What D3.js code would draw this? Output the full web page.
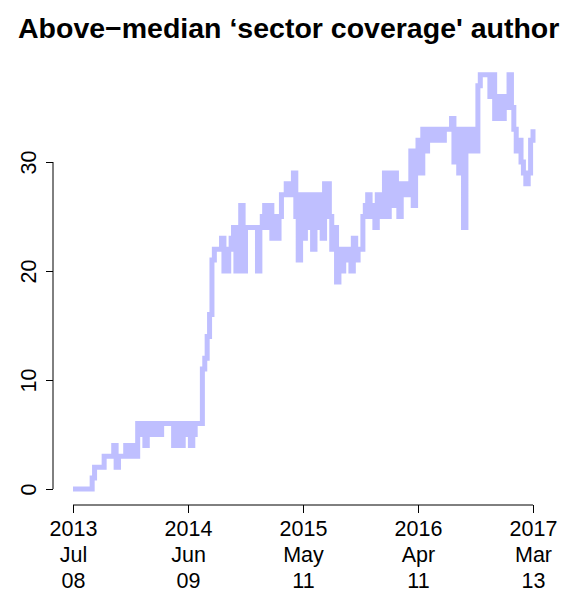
<!DOCTYPE html>
<html>
<head>
<meta charset="utf-8">
<script src="https://cdn.jsdelivr.net/npm/d3@7"></script>
<style>
  html, body { margin: 0; padding: 0; background: #fff; overflow: hidden; }
  svg { display: block; }
  text { font-family: "Liberation Sans", Arial, Helvetica, sans-serif; fill: #000; }
</style>
</head>
<body>
<svg id="chart" width="563" height="592"></svg>
<script>
// ---- data ----
const titleText = "Above\u2212median \u2018sector coverage' author";
const seriesStart = "2013-07-08";   // first weekly observation
// weekly values (one per week starting at seriesStart)
const weeklyValues = [
  0,0,0,0,0,0,0,0,1,2,2,2,2,3,3,3,3,4,2,3,
  3,3,4,3,4,4,3,6,5,6,4,6,6,5,6,6,5,6,6,6,
  6,6,4,6,6,4,6,5,6,4,5,6,6,6,11,12,14,16,21,22,
  22,22,23,20,20,22,23,24,20,22,26,20,24,24,24,24,24,20,24,25,
  26,24,26,23,25,23,25,27,27,28,27,28,29,25,21,27,23,27,24,27,
  22,27,24,27,23,28,28,25,22,24,19,22,20,22,21,22,20,23,21,22,
  22,25,26,27,25,26,24,27,25,26,29,25,29,26,29,28,25,28,27,28,
  27,31,26,31,32,29,33,31,32,33,33,32,33,33,32,33,33,33,34,30,
  33,29,33,24,33,33,31,33,31,37,38,38,38,38,36,38,34,36,35,34,
  36,35,38,35,33,31,32,30,29,28,29,32,33
];
const xTickDates = ["2013-07-08", "2014-06-09", "2015-05-11", "2016-04-11", "2017-03-13"];
const yTickValues = [0, 10, 20, 30];

// ---- chart ----
const parse = d3.timeParse("%Y-%m-%d");
const start = parse(seriesStart);
const data = weeklyValues.map((v, i) => ({ date: d3.timeDay.offset(start, 7 * i), value: v }));

const svg = d3.select("#chart");
const x = d3.scaleTime()
  .domain([parse(xTickDates[0]), parse(xTickDates[xTickDates.length - 1])])
  .range([73, 533]);
const y = d3.scaleLinear().domain([0, 30]).range([489, 162]);

// title
svg.append("text")
  .attr("x", 18).attr("y", 38)
  .attr("font-size", 28.5).attr("font-weight", "bold")
  .text(titleText);

// line
const line = d3.line()
  .x(d => x(d.date)).y(d => y(d.value))
  .curve(d3.curveStepAfter);
svg.append("path")
  .datum(data)
  .attr("fill", "none")
  .attr("stroke", "#bfbfff")
  .attr("stroke-width", 5)
  .attr("stroke-linejoin", "miter")
  .attr("d", line);

// x axis
const xAxisG = svg.append("g").attr("transform", "translate(0,505)");
const xAxis = d3.axisBottom(x)
  .tickValues(xTickDates.map(parse))
  .tickSize(8).tickSizeOuter(0).tickFormat("");
xAxisG.call(xAxis);
xAxisG.select(".domain").attr("stroke", "#000").attr("d", `M${x.range()[0]},0H${x.range()[1]}`);
xAxisG.selectAll(".tick line").attr("stroke", "#000");
const fmts = [d3.timeFormat("%Y"), d3.timeFormat("%b"), d3.timeFormat("%d")];
xAxisG.selectAll(".tick").each(function(d) {
  const g = d3.select(this);
  fmts.forEach((f, i) => {
    g.append("text")
      .attr("y", 31 + i * 26)
      .attr("text-anchor", "middle")
      .attr("font-size", 21.5)
      .attr("fill", "#000")
      .text(f(d));
  });
});

// y axis
const yAxisG = svg.append("g").attr("transform", "translate(53,0)");
yAxisG.call(d3.axisLeft(y).tickValues(yTickValues).tickSize(7).tickSizeOuter(0).tickFormat(""));
yAxisG.select(".domain").attr("stroke", "#000").attr("d", `M0,${y(0)}V${y(30)}`);
yAxisG.selectAll(".tick line").attr("stroke", "#000");
yAxisG.selectAll(".tick").append("text")
  .attr("transform", "translate(-17,0) rotate(-90)")
  .attr("text-anchor", "middle")
  .attr("font-size", 21.5)
  .attr("fill", "#000")
  .text(d => d);
</script>
</body>
</html>
